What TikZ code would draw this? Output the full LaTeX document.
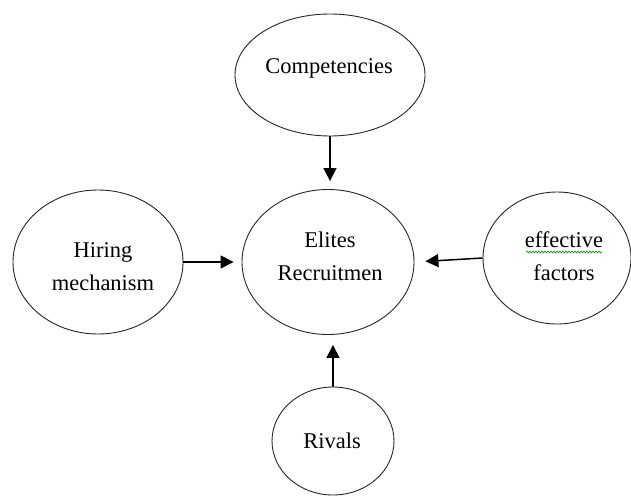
\documentclass[tikz,border=0pt]{standalone}
\usepackage{fontspec}
\setmainfont{Liberation Serif}
\usetikzlibrary{shapes.geometric,arrows.meta,decorations.pathmorphing}
\begin{document}
\begin{tikzpicture}[x=1pt,y=-1pt,
  oval/.style={draw=black!85,line width=0.9pt,ellipse,inner sep=0pt},
  lbl/.style={align=center,text=black,font=\fontsize{22.5}{33}\selectfont},
  arr/.style={line width=1.5pt,-{Triangle[length=13pt,width=13pt]}}]
\useasboundingbox (0,0) rectangle (631,497);
\node[oval,minimum width=190pt,minimum height=122pt] (top) at (330,75) {};
\node[oval,minimum width=170pt,minimum height=144pt] (left) at (98,262) {};
\node[oval,minimum width=172pt,minimum height=145pt] (mid) at (328,262) {};
\node[oval,minimum width=148pt,minimum height=132pt] (right) at (557,258) {};
\node[oval,minimum width=122pt,minimum height=108pt] (bot) at (333,441) {};
\node[lbl] (topt) at (329,68) {Competencies};
\node[lbl] (leftt) at (103,267) {Hiring\\mechanism};
\node[lbl] (midt) at (330,256) {Elites\\Recruitmen};
\node[lbl] (rightt) at (564,256) {effective\\factors};
\node[lbl] (bott) at (332,441) {Rivals};
\coordinate (sqa) at (526,252);
\coordinate (sqb) at (602,252);
\draw[green!60!black,line width=0.6pt,decorate,decoration={snake,amplitude=1pt,segment length=3pt}] (sqa) -- (sqb);
\draw[arr,shorten >=8pt] (top.south) -- (top.south |- mid.north);
\draw[arr,shorten >=8pt] (left.east) -- (mid.west);
\draw[arr,shorten >=11pt] (right.west) -- (mid.east);
\draw[arr,shorten >=10pt] (bot.north) -- (bot.north |- mid.south);
\end{tikzpicture}
\end{document}
